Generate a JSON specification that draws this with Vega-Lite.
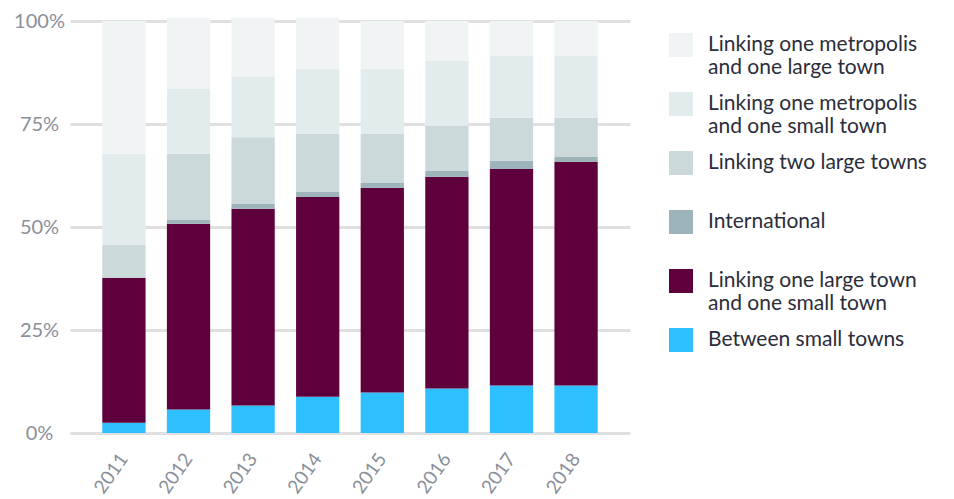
{
  "$schema": "https://vega.github.io/schema/vega-lite/v6.json",
  "autosize": "none",
  "width": 560,
  "height": 412,
  "padding": {"left": 70, "top": 21, "right": 324, "bottom": 66},
  "background": "white",
  "config": {
    "view": {"stroke": null},
    "font": "Lato"
  },
  "data": {
    "values": [
      {"year": "2011", "category": "Between small towns", "rank": 1, "value": 2.5},
      {"year": "2011", "category": "Linking one large town and one small town", "rank": 2, "value": 35.2},
      {"year": "2011", "category": "International", "rank": 3, "value": 0},
      {"year": "2011", "category": "Linking two large towns", "rank": 4, "value": 8.0},
      {"year": "2011", "category": "Linking one metropolis and one small town", "rank": 5, "value": 22.1},
      {"year": "2011", "category": "Linking one metropolis and one large town", "rank": 6, "value": 32.2},

      {"year": "2012", "category": "Between small towns", "rank": 1, "value": 5.7},
      {"year": "2012", "category": "Linking one large town and one small town", "rank": 2, "value": 45.1},
      {"year": "2012", "category": "International", "rank": 3, "value": 0.9},
      {"year": "2012", "category": "Linking two large towns", "rank": 4, "value": 16.1},
      {"year": "2012", "category": "Linking one metropolis and one small town", "rank": 5, "value": 15.7},
      {"year": "2012", "category": "Linking one metropolis and one large town", "rank": 6, "value": 17.3},

      {"year": "2013", "category": "Between small towns", "rank": 1, "value": 6.7},
      {"year": "2013", "category": "Linking one large town and one small town", "rank": 2, "value": 47.7},
      {"year": "2013", "category": "International", "rank": 3, "value": 1.2},
      {"year": "2013", "category": "Linking two large towns", "rank": 4, "value": 16.2},
      {"year": "2013", "category": "Linking one metropolis and one small town", "rank": 5, "value": 14.6},
      {"year": "2013", "category": "Linking one metropolis and one large town", "rank": 6, "value": 14.4},

      {"year": "2014", "category": "Between small towns", "rank": 1, "value": 8.8},
      {"year": "2014", "category": "Linking one large town and one small town", "rank": 2, "value": 48.5},
      {"year": "2014", "category": "International", "rank": 3, "value": 1.2},
      {"year": "2014", "category": "Linking two large towns", "rank": 4, "value": 14.1},
      {"year": "2014", "category": "Linking one metropolis and one small town", "rank": 5, "value": 15.8},
      {"year": "2014", "category": "Linking one metropolis and one large town", "rank": 6, "value": 12.4},

      {"year": "2015", "category": "Between small towns", "rank": 1, "value": 9.8},
      {"year": "2015", "category": "Linking one large town and one small town", "rank": 2, "value": 49.7},
      {"year": "2015", "category": "International", "rank": 3, "value": 1.2},
      {"year": "2015", "category": "Linking two large towns", "rank": 4, "value": 11.9},
      {"year": "2015", "category": "Linking one metropolis and one small town", "rank": 5, "value": 15.8},
      {"year": "2015", "category": "Linking one metropolis and one large town", "rank": 6, "value": 11.6},

      {"year": "2016", "category": "Between small towns", "rank": 1, "value": 10.8},
      {"year": "2016", "category": "Linking one large town and one small town", "rank": 2, "value": 51.4},
      {"year": "2016", "category": "International", "rank": 3, "value": 1.4},
      {"year": "2016", "category": "Linking two large towns", "rank": 4, "value": 11.0},
      {"year": "2016", "category": "Linking one metropolis and one small town", "rank": 5, "value": 15.7},
      {"year": "2016", "category": "Linking one metropolis and one large town", "rank": 6, "value": 9.7},

      {"year": "2017", "category": "Between small towns", "rank": 1, "value": 11.5},
      {"year": "2017", "category": "Linking one large town and one small town", "rank": 2, "value": 52.6},
      {"year": "2017", "category": "International", "rank": 3, "value": 2.0},
      {"year": "2017", "category": "Linking two large towns", "rank": 4, "value": 10.4},
      {"year": "2017", "category": "Linking one metropolis and one small town", "rank": 5, "value": 15.0},
      {"year": "2017", "category": "Linking one metropolis and one large town", "rank": 6, "value": 8.5},

      {"year": "2018", "category": "Between small towns", "rank": 1, "value": 11.5},
      {"year": "2018", "category": "Linking one large town and one small town", "rank": 2, "value": 54.3},
      {"year": "2018", "category": "International", "rank": 3, "value": 1.2},
      {"year": "2018", "category": "Linking two large towns", "rank": 4, "value": 9.5},
      {"year": "2018", "category": "Linking one metropolis and one small town", "rank": 5, "value": 15.0},
      {"year": "2018", "category": "Linking one metropolis and one large town", "rank": 6, "value": 8.5}
    ]
  },
  "mark": {"type": "bar"},
  "encoding": {
    "x": {
      "field": "year",
      "type": "ordinal",
      "scale": {"paddingInner": 0.33, "paddingOuter": 0.5},
      "axis": {
        "title": null,
        "domain": false,
        "ticks": false,
        "labelAngle": -55,
        "labelAlign": "right",
        "labelBaseline": "middle",
        "labelPadding": 22,
        "labelFontSize": 19,
        "labelColor": "#8a8f9a",
        "grid": false
      }
    },
    "y": {
      "field": "value",
      "type": "quantitative",
      "stack": "zero",
      "scale": {"domain": [0, 100], "nice": false},
      "axis": {
        "title": null,
        "values": [0, 25, 50, 75, 100],
        "labelExpr": "datum.value + '%'",
        "domain": false,
        "ticks": false,
        "labelAlign": "center",
        "labelPadding": 31,
        "labelFontSize": 20,
        "labelColor": "#8a8f9a",
        "gridColor": "#e0e0e0",
        "gridWidth": 3
      }
    },
    "color": {
      "field": "category",
      "type": "nominal",
      "scale": {
        "domain": [
          "Linking one metropolis and one large town",
          "Linking one metropolis and one small town",
          "Linking two large towns",
          "International",
          "Linking one large town and one small town",
          "Between small towns"
        ],
        "range": ["#f0f4f5", "#e3ecec", "#cbd9da", "#9db5ba", "#5e003c", "#2ebfff"]
      },
      "legend": {
        "title": null,
        "orient": "none",
        "legendX": 599,
        "legendY": 12,
        "symbolType": "square",
        "symbolSize": 576,
        "symbolStrokeWidth": 0,
        "symbolOpacity": 1,
        "labelFontSize": 21,
        "labelLineHeight": 24,
        "labelColor": "#2b2d3a",
        "labelLimit": 400,
        "labelOffset": 15,
        "rowPadding": 14,
        "gridAlign": "all",
        "padding": 0,
        "labelExpr": "indexof(datum.label, ' and ') > 0 ? [substring(datum.label, 0, indexof(datum.label, ' and ')), substring(datum.label, indexof(datum.label, ' and ') + 1)] : datum.label"
      }
    },
    "order": {"field": "rank", "type": "quantitative", "sort": "ascending"}
  }
}
